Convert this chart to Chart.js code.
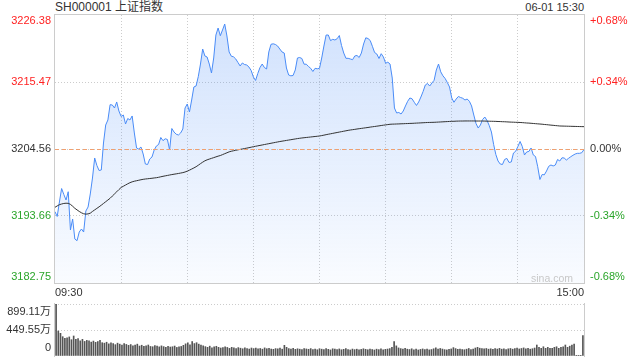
<!DOCTYPE html>
<html>
<head>
<meta charset="utf-8">
<script src="https://cdn.jsdelivr.net/npm/chart.js@4.4.1/dist/chart.umd.min.js"></script>
<style>
    body { margin: 0; background: #fff; font-family: Arial, "Liberation Sans", "Noto Sans CJK SC", sans-serif; }
    #wrap { position: relative; width: 640px; height: 360px; overflow: hidden; }
    .lbl { position: absolute; top: 0; color: #333; line-height: 14px; white-space: nowrap; }
    canvas { position: absolute; left: 0; }
</style>
</head>
<body>
<div id="wrap">
    <div class="lbl" style="left:55px;font-size:12px">SH000001 上证指数</div>
    <div class="lbl" style="right:56px;font-size:11px">06-01 15:30</div>
    <canvas id="price-chart" width="640" height="300" style="top:0"></canvas>
    <canvas id="vol-chart" width="640" height="60" style="top:300px"></canvas>
</div>
<script>
/* Intraday chart — price + average line, volume bars */

const BASE = 3204.56;

// trading minutes 09:30-11:30, 13:01-15:00
const TIMES = [];
for (let m = 0; m <= 240; m++) {
    const t = m <= 120 ? 570 + m : 780 + (m - 120);
    TIMES.push(String(Math.floor(t / 60)).padStart(2, '0') + ':' + String(t % 60).padStart(2, '0'));
}

const PRICE = [
    3194.36, 3193.58, 3195.94, 3198.13, 3197.16, 3196.26, 3197.61, 3191.38, 3193.17, 3189.91,
    3189.64, 3191.05, 3191.54, 3191.05, 3194.47, 3195.12, 3197.24, 3199.84, 3203.10, 3201.88,
    3201.06, 3201.15, 3205.54, 3208.47, 3209.29, 3211.78, 3211.73, 3211.24, 3212.22, 3210.75,
    3209.86, 3210.10, 3208.63, 3209.53, 3209.29, 3209.94, 3207.17, 3204.73, 3204.56, 3204.89,
    3203.75, 3202.12, 3202.04, 3202.94, 3203.26, 3204.40, 3205.05, 3205.30, 3206.44, 3205.92,
    3206.23, 3206.11, 3204.40, 3207.90, 3207.33, 3206.97, 3206.84, 3207.17, 3207.82, 3211.24,
    3211.89, 3210.59, 3212.54, 3214.66, 3214.82, 3216.34, 3218.40, 3220.84, 3219.71, 3219.54,
    3218.40, 3216.94, 3219.38, 3223.12, 3224.26, 3223.01, 3223.94, 3224.91, 3222.96, 3220.36,
    3219.67, 3219.57, 3219.22, 3218.65, 3218.08, 3218.57, 3218.32, 3218.24, 3217.91, 3217.34,
    3216.29, 3215.72, 3216.86, 3217.83, 3218.40, 3217.83, 3217.59, 3220.36, 3221.61, 3221.69,
    3221.58, 3221.33, 3220.84, 3220.36, 3220.19, 3217.75, 3216.61, 3216.48, 3216.53, 3217.43,
    3219.38, 3219.46, 3219.30, 3218.37, 3218.37, 3218.00, 3217.70, 3217.18, 3217.70, 3217.62,
    3217.70, 3219.38, 3221.33, 3223.12, 3223.12, 3222.21, 3222.42, 3222.31, 3222.52, 3223.04,
    3221.41, 3220.19, 3219.33, 3219.33, 3219.22, 3219.10, 3219.71, 3219.79, 3219.46, 3220.19,
    3221.66, 3222.67, 3222.55, 3222.23, 3221.28, 3220.27, 3220.03, 3219.30, 3220.08, 3219.54,
    3218.53, 3218.70, 3218.40, 3216.12, 3211.24, 3210.43, 3210.51, 3210.26, 3210.75, 3211.57,
    3212.33, 3212.87, 3212.74, 3212.17, 3211.65, 3212.22, 3213.03, 3213.93, 3214.98, 3215.23,
    3214.82, 3215.31, 3215.75, 3217.43, 3218.40, 3217.13, 3216.48, 3216.04, 3215.39, 3214.66,
    3212.87, 3212.17, 3212.70, 3213.11, 3212.95, 3212.82, 3212.54, 3212.70, 3212.33, 3211.57,
    3210.10, 3208.72, 3207.98, 3208.47, 3209.37, 3209.77, 3209.20, 3208.39, 3207.33, 3205.30,
    3203.67, 3202.61, 3202.12, 3202.04, 3202.86, 3203.03, 3202.37, 3202.45, 3203.91, 3204.19,
    3204.97, 3205.79, 3204.97, 3203.59, 3204.08, 3204.17, 3204.73, 3203.59, 3203.34, 3201.68,
    3199.60, 3200.41, 3200.36, 3200.98, 3201.75, 3201.96, 3201.80, 3201.96, 3202.86, 3202.61,
    3203.13, 3203.10, 3202.77, 3203.05, 3203.31, 3203.54, 3203.75, 3203.86, 3203.86, 3203.96, 3204.48
];

const AVG = [
    3195.07, 3195.30, 3195.50, 3195.61, 3195.70, 3195.74, 3195.72, 3195.55, 3195.25, 3194.91,
    3194.65, 3194.40, 3194.18, 3194.02, 3193.96, 3194.00, 3194.12, 3194.40, 3194.65, 3194.90,
    3195.15, 3195.42, 3195.70, 3195.98, 3196.26, 3196.54, 3196.90, 3197.25, 3197.60, 3197.96,
    3198.30, 3198.50, 3198.70, 3198.90, 3199.08, 3199.22, 3199.32, 3199.40, 3199.48, 3199.56,
    3199.63, 3199.68, 3199.72, 3199.76, 3199.80, 3199.85, 3199.89, 3199.96, 3200.04, 3200.12,
    3200.19, 3200.26, 3200.33, 3200.40, 3200.46, 3200.52, 3200.58, 3200.65, 3200.72, 3200.82,
    3200.96, 3201.12, 3201.30, 3201.48, 3201.68, 3201.92, 3202.18, 3202.42, 3202.64, 3202.80,
    3202.92, 3203.04, 3203.16, 3203.28, 3203.40, 3203.50, 3203.65, 3203.80, 3203.95, 3204.10,
    3204.20, 3204.28, 3204.36, 3204.43, 3204.50, 3204.57, 3204.64, 3204.71, 3204.78, 3204.86,
    3204.94, 3205.01, 3205.08, 3205.15, 3205.22, 3205.29, 3205.36, 3205.43, 3205.50, 3205.57,
    3205.64, 3205.71, 3205.78, 3205.84, 3205.90, 3205.96, 3206.02, 3206.08, 3206.14, 3206.20,
    3206.26, 3206.31, 3206.36, 3206.40, 3206.44, 3206.48, 3206.52, 3206.56, 3206.60, 3206.64,
    3206.68, 3206.75, 3206.82, 3206.90, 3206.97, 3207.04, 3207.11, 3207.18, 3207.25, 3207.32,
    3207.39, 3207.46, 3207.53, 3207.60, 3207.66, 3207.71, 3207.76, 3207.82, 3207.87, 3207.92,
    3207.97, 3208.02, 3208.07, 3208.13, 3208.18, 3208.23, 3208.28, 3208.33, 3208.39, 3208.44,
    3208.49, 3208.54, 3208.59, 3208.61, 3208.62, 3208.64, 3208.65, 3208.67, 3208.68, 3208.70,
    3208.71, 3208.73, 3208.74, 3208.76, 3208.78, 3208.80, 3208.82, 3208.84, 3208.86, 3208.88,
    3208.89, 3208.90, 3208.91, 3208.93, 3208.95, 3208.97, 3208.99, 3209.01, 3209.03, 3209.05,
    3209.07, 3209.08, 3209.10, 3209.11, 3209.12, 3209.12, 3209.13, 3209.13, 3209.13, 3209.13,
    3209.13, 3209.12, 3209.12, 3209.12, 3209.12, 3209.11, 3209.10, 3209.09, 3209.08, 3209.07,
    3209.06, 3209.04, 3209.03, 3209.01, 3209.00, 3208.98, 3208.96, 3208.94, 3208.93, 3208.91,
    3208.90, 3208.88, 3208.86, 3208.83, 3208.80, 3208.78, 3208.75, 3208.72, 3208.69, 3208.66,
    3208.63, 3208.60, 3208.56, 3208.53, 3208.49, 3208.45, 3208.42, 3208.38, 3208.35, 3208.31,
    3208.30, 3208.29, 3208.28, 3208.27, 3208.26, 3208.25, 3208.24, 3208.23, 3208.22, 3208.21, 3208.20
];

// volume, 万手
const VOLUME = [
    899, 432, 392, 334, 306, 316, 330, 282, 346, 290, 300,
    262, 288, 252, 270, 262, 240, 258, 236, 250, 272,
    230, 222, 238, 210, 226, 214, 196, 222, 205, 188,
    215, 200, 184, 198, 176, 190, 205, 172, 186, 168,
    178, 190, 165, 160, 182, 170, 158, 175, 162, 150,
    168, 155, 160, 172, 148, 158, 165, 185,
    210, 228, 195, 250, 215, 230, 205, 190,
    176, 162, 150, 170, 140, 158, 168, 150, 138, 145, 160, 148, 132, 150,
    140, 128, 145, 135, 125, 142, 130, 120, 138, 128, 135, 122, 130, 118, 140, 126, 132, 120, 115, 128,
    124, 135, 118, 185, 150, 128, 120, 132, 115, 125, 118, 110, 130, 122, 116, 128, 112, 120, 108, 126,
    118, 110, 130, 115, 105, 125, 118, 110, 122, 108, 115, 128, 112, 104, 120, 110, 118, 106, 114, 125,
    116, 108, 120, 112, 104, 118, 110, 122, 106, 115, 120, 128, 150, 248, 175, 140, 128, 120, 132, 118,
    112, 125, 108, 118, 104, 114, 122, 110, 118, 106, 112, 125, 140, 118, 130, 120, 110, 105, 116, 122,
    145, 128, 115, 120, 112, 108, 118, 130, 112, 120, 138, 150, 135, 128, 122, 130, 118, 125, 115, 128,
    120, 132, 118, 126, 112, 124, 130, 118, 128, 135, 122, 130, 140, 125, 132, 118, 126, 138, 190, 150,
    133, 160, 133, 150, 133, 133, 150, 160, 133, 150, 160, 190, 150, 170, 190, 207,
    4, 4, 4,
    351
];

const PRICE_TICKS = [3182.75, 3193.66, 3204.56, 3215.47, 3226.38];
const PCT_LABELS = ['-0.68%', '-0.34%', '0.00%', '+0.34%', '+0.68%'];
const VOL_TICKS = [0, 449.55, 899.11];
const VOL_LABELS = ['0', '449.55万', '899.11万'];

const GRID = '#cccccc';
const FONT = { family: 'Arial, "Liberation Sans", "Noto Sans CJK SC", sans-serif', size: 11 };

// push the first label up and the last one down so they stay inside the frame
const edge = (text, i, n) => (i === n - 1 ? ['', text] : i === 0 ? [text, ''] : text);
const tickColor = c => (c.tick.value > BASE + 0.001 ? '#f22' : c.tick.value < BASE - 0.001 ? '#2aa52a' : '#333');

const framePlugin = {
    id: 'frame',
    afterDraw(chart, args, opts) {
        const { ctx, chartArea: a } = chart;
        ctx.save();
        ctx.strokeStyle = GRID;
        ctx.lineWidth = 1;
        ctx.beginPath();
        if (opts.top) { ctx.moveTo(a.left, a.top - 0.5); ctx.lineTo(a.right, a.top - 0.5); }
        if (opts.bottom) { ctx.moveTo(a.left, a.bottom + 0.5); ctx.lineTo(a.right, a.bottom + 0.5); }
        ctx.moveTo(a.left - 0.5, a.top - 1); ctx.lineTo(a.left - 0.5, a.bottom + 1);
        ctx.moveTo(a.right + 0.5, a.top - 1); ctx.lineTo(a.right + 0.5, a.bottom + 1);
        ctx.stroke();
        if (opts.mark) {
            ctx.fillStyle = '#c8c8c8';
            ctx.font = '10.5px Arial, "Liberation Sans", sans-serif';
            ctx.textAlign = 'right';
            ctx.textBaseline = 'middle';
            ctx.fillText(opts.mark, a.right - 11, a.bottom - 4);
        }
        ctx.restore();
    }
};

const baseLinePlugin = {
    id: 'baseLine',
    afterDatasetsDraw(chart) {
        const { ctx, chartArea: a, scales } = chart;
        const y = Math.round(scales.y.getPixelForValue(BASE)) + 0.5;
        ctx.save();
        ctx.strokeStyle = '#f0a070';
        ctx.setLineDash([4, 3]);
        ctx.beginPath();
        ctx.moveTo(a.left, y);
        ctx.lineTo(a.right, y);
        ctx.stroke();
        ctx.restore();
    }
};

// fixed axis width, and no extra room reserved for the edge labels
const fixWidth = width => s => { s.width = width; s.paddingTop = 0; s.paddingBottom = 0; };

const priceAxis = (side, labels, width, pad) => ({
    position: side,
    min: PRICE_TICKS[0],
    max: PRICE_TICKS[PRICE_TICKS.length - 1],
    afterBuildTicks: s => { s.ticks = PRICE_TICKS.map(v => ({ value: v })); },
    afterFit: fixWidth(width),
    border: { display: false, dash: [1, 2] },
    grid: {
        display: side === 'left',
        drawTicks: false,
        color: c => (c.index === 0 || c.index === PRICE_TICKS.length - 1 ? 'rgba(0,0,0,0)' : GRID),
    },
    ticks: {
        autoSkip: false,
        padding: pad,
        font: { ...FONT, lineHeight: 1.04 },
        color: tickColor,
        callback: (v, i) => edge(labels[i], i, PRICE_TICKS.length),
    },
});

new Chart(document.getElementById('price-chart'), {
    type: 'line',
    data: {
        labels: TIMES,
        datasets: [
            {
                data: AVG,
                borderColor: '#333',
                borderWidth: 1,
                pointRadius: 0,
                fill: false,
                tension: 0,
            },
            {
                data: PRICE,
                borderColor: '#4a8cf7',
                borderWidth: 1,
                pointRadius: 0,
                tension: 0,
                fill: 'start',
                backgroundColor: c => {
                    const a = c.chart.chartArea;
                    if (!a) return 'rgba(0,0,0,0)';
                    const g = c.chart.ctx.createLinearGradient(0, a.top, 0, a.bottom);
                    g.addColorStop(0, 'rgba(74,140,247,0.26)');
                    g.addColorStop(1, 'rgba(74,140,247,0.03)');
                    return g;
                },
            },
        ],
    },
    options: {
        responsive: false,
        animation: false,
        layout: { padding: { top: 15 } },
        plugins: {
            legend: { display: false },
            tooltip: { enabled: false },
            frame: { top: true, bottom: true, mark: 'sina.com' },
        },
        scales: {
            x: {
                afterFit: s => { s.height = 17; },
                border: { display: false, dash: [1, 2] },
                grid: {
                    drawTicks: false,
                    color: c => (c.index % 30 === 0 && c.index > 0 && c.index < 240 ? GRID : 'rgba(0,0,0,0)'),
                },
                ticks: {
                    autoSkip: false,
                    maxRotation: 0,
                    align: 'inner',
                    padding: 3,
                    font: FONT,
                    color: '#333',
                    callback: (v, i) => (i === 0 || i === TIMES.length - 1 ? TIMES[i] : ''),
                },
            },
            y: priceAxis('left', PRICE_TICKS.map(v => v.toFixed(2)), 55, 4),
            y2: priceAxis('right', PCT_LABELS, 56, 6),
        },
    },
    plugins: [framePlugin, baseLinePlugin],
});

new Chart(document.getElementById('vol-chart'), {
    type: 'bar',
    data: {
        labels: TIMES,
        datasets: [{
            data: VOLUME,
            backgroundColor: '#555',
            barThickness: 1,
        }],
    },
    options: {
        responsive: false,
        animation: false,
        layout: { padding: { top: 4, bottom: 4, right: 56 } },
        plugins: {
            legend: { display: false },
            tooltip: { enabled: false },
            frame: {},
        },
        scales: {
            x: { display: false },
            y: {
                min: VOL_TICKS[0],
                max: VOL_TICKS[VOL_TICKS.length - 1],
                afterBuildTicks: s => { s.ticks = VOL_TICKS.map(v => ({ value: v })); },
                afterFit: fixWidth(55),
                border: { display: false, dash: [1, 2] },
                grid: {
                    drawTicks: false,
                    color: c => (c.index === 0 ? 'rgba(0,0,0,0)' : GRID),
                },
                ticks: {
                    autoSkip: false,
                    padding: 4,
                    font: { ...FONT, lineHeight: 1.4 },
                    color: '#333',
                    callback: (v, i) => edge(VOL_LABELS[i], i, VOL_TICKS.length),
                },
            },
        },
    },
    plugins: [framePlugin],
});
</script>
</body>
</html>
